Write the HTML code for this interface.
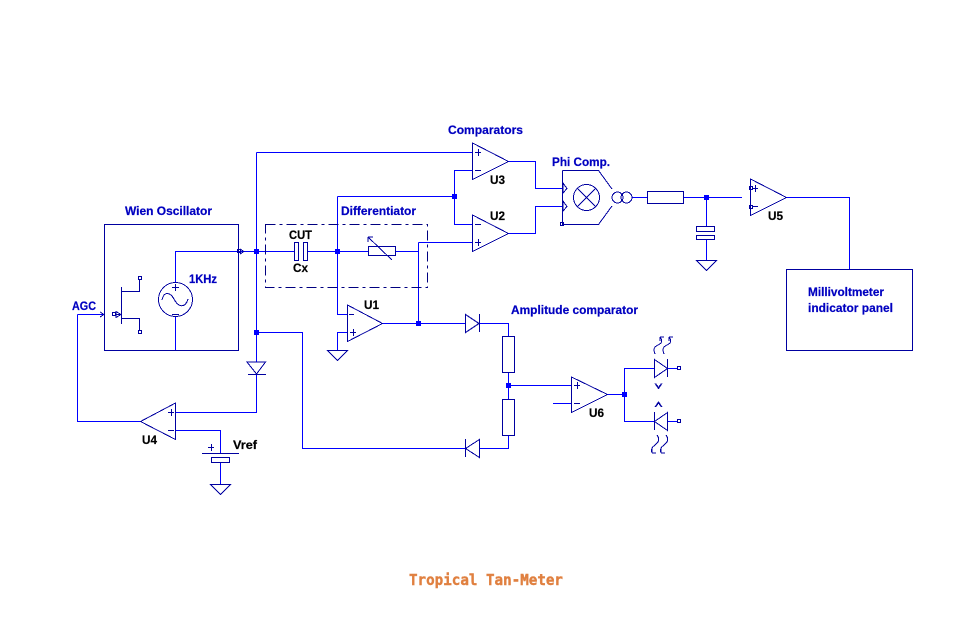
<!DOCTYPE html>
<html><head><meta charset="utf-8"><title>Tropical Tan-Meter</title>
<style>
html,body{margin:0;padding:0;background:#fff;width:953px;height:639px;overflow:hidden}
svg{display:block}
text{font-family:"Liberation Sans",sans-serif;font-weight:bold;font-size:11.5px}
.b{fill:#0000c0;stroke:#0000c0;stroke-width:.2}.k{fill:#000;stroke:#000;stroke-width:.2}
</style></head><body>
<svg width="953" height="639" viewBox="0 0 953 639" xmlns="http://www.w3.org/2000/svg">
<rect width="953" height="639" fill="#fff"/>
<!-- wires -->
<g fill="none" stroke="#0000ff" stroke-width="1" shape-rendering="crispEdges">
<path d="M175.500 283V251.500H256.500"/>
<path d="M175.500 316V350"/>
<path d="M77.500 314.500H104"/>
<path d="M77.500 314.500V421.500H140"/>
<path d="M256.500 152.500H472"/>
<path d="M256.500 152.500V362M256.500 374V412.500H175"/>
<path d="M256.500 332.500H302.500V448.500H465"/>
<path d="M175 430.500H220.500V453M220.500 462V484"/>
<path d="M256.500 251.500H294M308 251.500H368M396 251.500H418.500"/>
<path d="M337.500 251.500V314.500H347M337.500 196.500V251.500M337.500 196.500H454.500"/>
<path d="M347 332.500H337.500V350"/>
<path d="M418.500 242.500V323.500M418.500 242.500H472"/>
<path d="M382 323.500H465"/>
<path d="M472 170.500H454.500V224.500H472"/>
<path d="M508 161.500H535.500V188.500H562"/>
<path d="M508 233.500H535.500V206.500H562"/>
<path d="M632 197.500H647M684 197.500H742"/>
<path d="M706.500 197.500V226M706.500 240V260"/>
<path d="M786 197.500H849.500V269"/>
<path d="M479 323.500H508.500V336M508.500 372V399M508.500 435V448.500H479"/>
<path d="M508.500 385.500H572"/>
<path d="M553 403.500H572"/>
<path d="M607 394.500H624.500"/>
<path d="M654 368.500H624.500V421.500H654"/>
<path d="M667 368.500H677M667 421.500H677"/>
</g>
<!-- nodes -->
<g fill="#0000ff" shape-rendering="crispEdges">
<rect x="254" y="249" width="5" height="5"/>
<rect x="254" y="330" width="5" height="5"/>
<rect x="335" y="249" width="5" height="5"/>
<rect x="416" y="321" width="5" height="5"/>
<rect x="452" y="194" width="5" height="5"/>
<rect x="704" y="195" width="5" height="5"/>
<rect x="506" y="383" width="5" height="5"/>
<rect x="622" y="392" width="5" height="5"/>
</g>
<!-- components -->
<g fill="none" stroke="#0000a0" stroke-width="1" shape-rendering="crispEdges">
<rect x="104.500" y="224.500" width="134" height="126"/>
<rect x="786.500" y="269.500" width="126" height="81"/>
<!-- input chevrons -->
<path d="M100 312L104 314.500L100 317"/>
<rect x="237.500" y="249.500" width="3" height="3"/><path d="M240 249L244 251.500L240 254"/>
<!-- JFET -->
<path d="M121.500 287V324M121.500 291.500H139.500V280M121.500 318.500H139.500V330"/>
<rect x="138.500" y="276.500" width="3" height="3"/><rect x="138.500" y="330.500" width="3" height="3"/>
<rect x="112.500" y="312.500" width="3" height="3"/>
<path d="M115 314.500H121M116 311.500L121 314.500L116 317.500Z"/>
<!-- source -->
<circle cx="175.500" cy="299.500" r="17"/>
<path d="M172 287.500H179M175.500 284V291M172 314.500H179"/>
<path d="M162 300C164 291 170 292 174 299C178 307 185 309 188 299"/>
<!-- caps, resistors -->
<rect x="294.500" y="242.500" width="4" height="18"/>
<rect x="303.500" y="242.500" width="4" height="18"/>
<rect x="368.500" y="246.500" width="27" height="9"/>
<path d="M368 237L392 260M368 237V242M368 237H373"/>
<rect x="647.500" y="191.500" width="36" height="12"/>
<rect x="696.500" y="226.500" width="18" height="5"/>
<rect x="696.500" y="235.500" width="18" height="4"/>
<rect x="502.500" y="336.500" width="12" height="36"/>
<rect x="502.500" y="399.500" width="12" height="36"/>
<!-- opamps -->
<path d="M347.500 305L382.500 323.500L347.500 341.500Z"/>
<path d="M350 332.500H356M353.500 329V336M349 314.500H354"/>
<path d="M472.500 143L508.500 161.500L472.500 179.500Z"/>
<path d="M475 152.500H481M478.500 149V156M475 170.500H481"/>
<path d="M472.500 215L508.500 233.500L472.500 251.500Z"/>
<path d="M475 224.500H481M475 242.500H481M478.500 239V246"/>
<path d="M750.500 179L786.500 197.500L750.500 215.500Z"/>
<rect x="749.500" y="186.500" width="3" height="3"/><rect x="749.500" y="205.500" width="3" height="3"/>
<path d="M753 188.500H758M755.500 185V192M753 206.500H758"/>
<path d="M571.500 377L607.500 394.500L571.500 412.500Z"/>
<path d="M574 385.500H580M577.500 382V389M574 403.500H580"/>
<path d="M175.500 403L140.500 421.500L175.500 439.500Z"/>
<path d="M168 412.500H174M171.500 409V416M168 430.500H174"/>
<!-- Phi -->
<path d="M562.500 170.500H598.500L612 189M562.500 170.500V224.500H598.500L612 206"/>
<path d="M563 183L567 188.500L563 193ZM563 201L567 206.500L563 211Z"/>
<rect x="560.500" y="222.500" width="3" height="3"/>
<circle cx="586.500" cy="197.500" r="13"/>
<path d="M577 188L596 207M596 188L577 207"/>
<circle cx="617.500" cy="197.500" r="5.500"/>
<circle cx="626.500" cy="197.500" r="5.500"/>
<!-- diodes -->
<path d="M247 362H265.500L256.500 374ZM248 374.500H266"/>
<path d="M465.500 314.500V332.500L479 323.500ZM479.500 314V332"/>
<path d="M479.500 439.500V457.500L465.500 448.500ZM465.500 439V457"/>
<!-- LEDs -->
<path d="M654.500 359.500V377.500L667.500 368.500ZM667.500 359V377"/>
<path d="M667.500 412.500V430.500L654.500 421.500ZM654.500 412V430"/>
<rect x="677.500" y="366.500" width="3" height="3"/>
<rect x="677.500" y="419.500" width="3" height="3"/>
<path d="M655 354C653 349 654 347 658 345C662 343 663 341 660 337M660 337V341M660 337H664"/>
<path d="M664 354C662 349 663 347 667 345C671 343 672 341 669 337M669 337V341M669 337H673"/>
<path d="M657 435C660 439 659 442 655 445C652 447 651 449 652 453M652 453V449M652 453H656"/>
<path d="M666 435C669 439 668 442 664 445C661 447 660 449 661 453M661 453V449M661 453H665"/>
<path d="M655 383.500L658.500 388.500L662 383.500M655.500 383.500L658.500 387.500L661.500 383.500M655 407L658.500 402L662 407M655.500 407L658.500 403L661.500 407"/>
<!-- battery and grounds -->
<path d="M202 453.500H239M208 447.500H214M211.500 444V451"/>
<rect x="211.500" y="457.500" width="18" height="5"/>
<path d="M210.500 484.500H230.500L220.500 494.500Z"/>
<path d="M327.500 350.500H347.500L337.500 360.500Z"/>
<path d="M696.500 260.500H716.500L706.500 270.500Z"/>
</g>
<!-- dash box -->
<rect x="265.500" y="224.500" width="162" height="63" fill="none" stroke="#000080" stroke-width="1" stroke-dasharray="10 4 3 4" shape-rendering="crispEdges"/>
<!-- labels -->
<text class="b" x="125" y="215" textLength="87" lengthAdjust="spacingAndGlyphs">Wien Oscillator</text>
<text class="b" x="189" y="283" textLength="28" lengthAdjust="spacingAndGlyphs">1KHz</text>
<text class="b" x="72" y="310" textLength="24" lengthAdjust="spacingAndGlyphs">AGC</text>
<text class="b" x="341" y="215" textLength="75" lengthAdjust="spacingAndGlyphs">Differentiator</text>
<text class="b" x="448" y="134" textLength="75" lengthAdjust="spacingAndGlyphs">Comparators</text>
<text class="b" x="552" y="166" textLength="58" lengthAdjust="spacingAndGlyphs">Phi Comp.</text>
<text class="b" x="511" y="314" textLength="127" lengthAdjust="spacingAndGlyphs">Amplitude comparator</text>
<text class="b" x="808" y="296" textLength="76" lengthAdjust="spacingAndGlyphs">Millivoltmeter</text>
<text class="b" x="808" y="312" textLength="85" lengthAdjust="spacingAndGlyphs">indicator panel</text>
<text class="k" x="289" y="239" textLength="23" lengthAdjust="spacingAndGlyphs">CUT</text>
<text class="k" x="293" y="272" textLength="15" lengthAdjust="spacingAndGlyphs">Cx</text>
<text class="k" x="364" y="309" textLength="15" lengthAdjust="spacingAndGlyphs">U1</text>
<text class="k" x="490" y="184" textLength="15" lengthAdjust="spacingAndGlyphs">U3</text>
<text class="k" x="490" y="220" textLength="15" lengthAdjust="spacingAndGlyphs">U2</text>
<text class="k" x="768" y="220" textLength="15" lengthAdjust="spacingAndGlyphs">U5</text>
<text class="k" x="589" y="417" textLength="15" lengthAdjust="spacingAndGlyphs">U6</text>
<text class="k" x="142" y="444" textLength="15" lengthAdjust="spacingAndGlyphs">U4</text>
<text class="k" x="233" y="449" textLength="24" lengthAdjust="spacingAndGlyphs">Vref</text>
<text x="409" y="585" textLength="154" lengthAdjust="spacingAndGlyphs" style="font-family:'DejaVu Sans Mono','Liberation Mono',monospace;font-size:15px;fill:#e08040;stroke:#e08040;stroke-width:.4;font-weight:bold">Tropical Tan-Meter</text>
</svg>
</body></html>
